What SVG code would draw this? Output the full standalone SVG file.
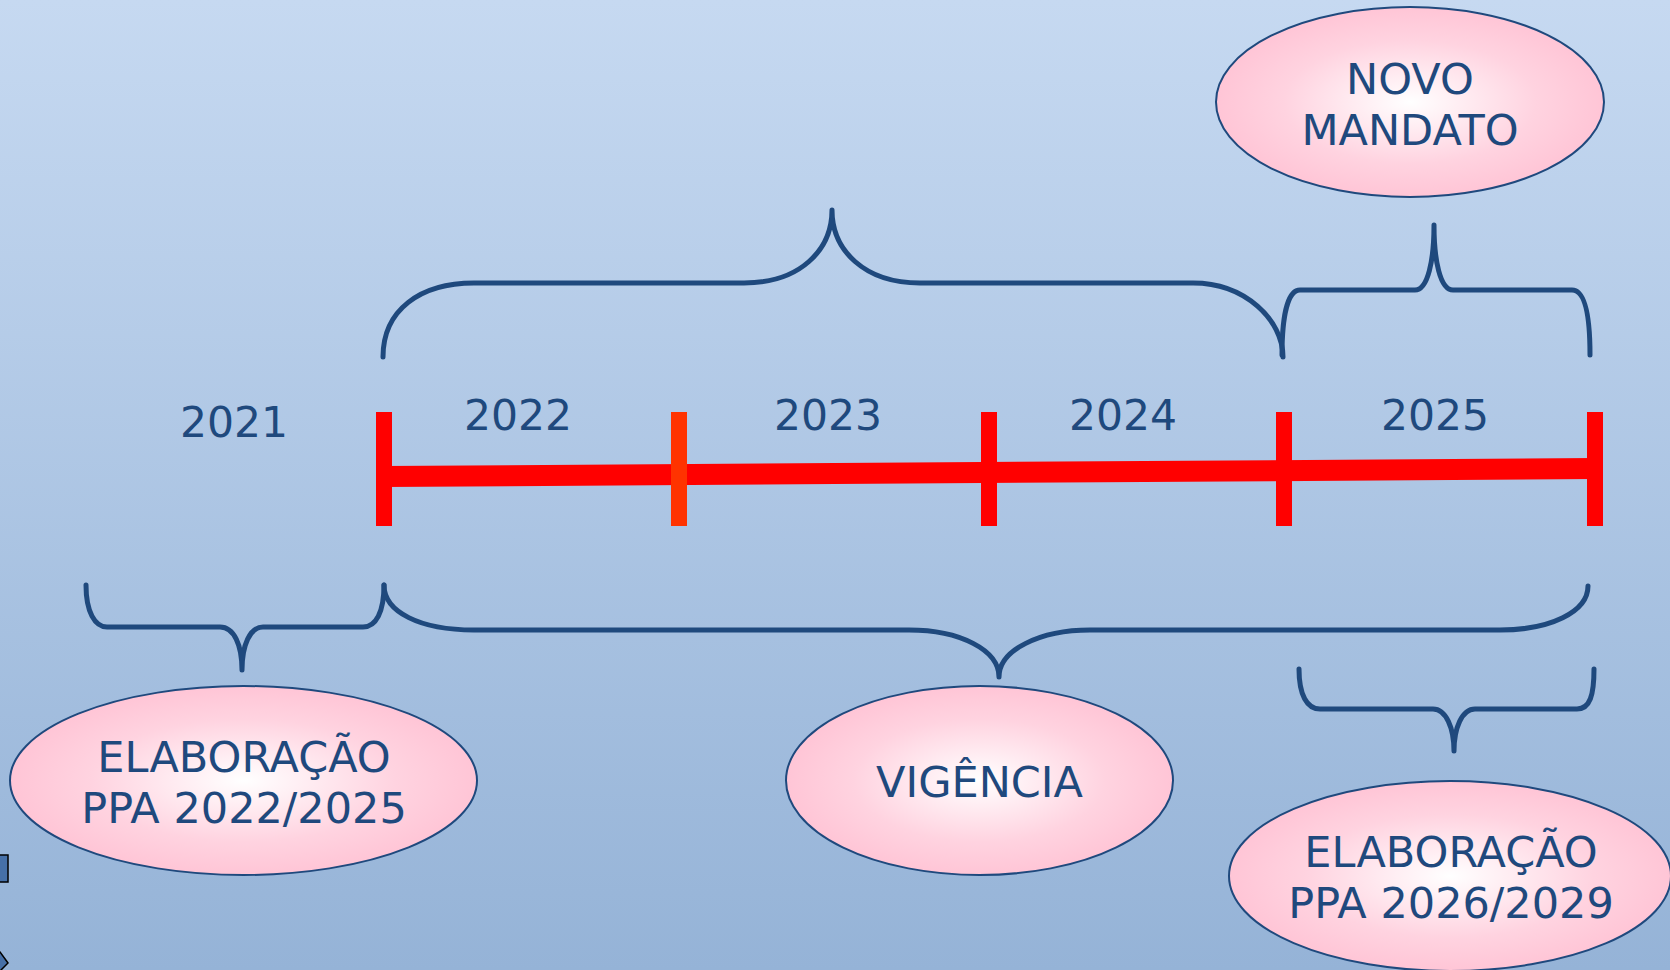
<svg xmlns="http://www.w3.org/2000/svg" width="1670" height="970" viewBox="0 0 1670 970">
<defs>
<linearGradient id="bg" x1="0" y1="0" x2="0" y2="1">
<stop offset="0" stop-color="#C6D9F1"/>
<stop offset="1" stop-color="#95B3D7"/>
</linearGradient>
<radialGradient id="pink" cx="0.5" cy="0.5" r="0.5">
<stop offset="0" stop-color="#FFFFFF"/>
<stop offset="0.65" stop-color="#FFD3E0"/>
<stop offset="1" stop-color="#FFC5D6"/>
</radialGradient>
<style>
.node ellipse{fill:url(#pink);stroke:#1F497D;stroke-width:2}
.t{font-family:"DejaVu Sans","Verdana",sans-serif;font-size:43px;fill:#1F497D;text-anchor:middle}
.y{font-size:42.5px}
.brace{fill:none;stroke:#1F497D;stroke-width:5;stroke-linecap:round;stroke-linejoin:round}
.tick{fill:#FF0000}
</style>
</defs>
<rect x="0" y="0" width="1670" height="970" fill="url(#bg)"/>

<rect x="-20" y="855" width="28" height="27" fill="#4670A8" stroke="#000" stroke-width="1.5"/>
<polygon points="-12,940 0,952 8,963 -4,975" fill="#4670A8" stroke="#000" stroke-width="1.5"/>

<g id="timeline">
<polygon points="384,466 1595,458 1595,479 384,487" fill="#FF0000"/>
<rect class="tick" x="376" y="412" width="16" height="114"/>
<rect x="671" y="412" width="16" height="114" fill="#FF3300"/>
<rect class="tick" x="981" y="412" width="16" height="114"/>
<rect class="tick" x="1276" y="412" width="16" height="114"/>
<rect class="tick" x="1587" y="412" width="16" height="114"/>
</g>

<g id="years">
<text class="t y" x="234" y="437">2021</text>
<text class="t y" x="518" y="430">2022</text>
<text class="t y" x="828" y="430">2023</text>
<text class="t y" x="1123" y="430">2024</text>
<text class="t y" x="1435" y="430">2025</text>
</g>

<g id="connectors">
<path class="brace" d="M383,357 C383,310 420,283 474,283 L744,283 C800,283 832,250 832,210 C832,250 864,283 920,283 L1193,283 C1245,283 1283,320 1283,357"/>
<path class="brace" d="M1282,355 C1282,315 1288,290 1300,290 L1415,290 C1428,290 1434,260 1434,225 C1434,260 1440,290 1453,290 L1572,290 C1585,290 1590,315 1590,355"/>
<path class="brace" d="M86,585 C86,612 95,627 107,627 L220,627 C234,627 242,645 242,670 C242,645 250,627 263,627 L363,627 C376,627 384,612 384,585"/>
<path class="brace" d="M384,585 C384,612 420,630 474,630 L909,630 C960,630 999,650 999,677 C999,650 1040,630 1090,630 L1500,630 C1550,630 1588,612 1588,586"/>
<path class="brace" d="M1299,669 C1299,695 1307,709 1320,709 L1433,709 C1446,709 1454,728 1454,751 C1454,728 1462,709 1475,709 L1577,709 C1590,709 1594,695 1594,669"/>
</g>

<g id="novo-mandato" class="node">
<ellipse cx="1410" cy="102" rx="194" ry="95"/>
<text class="t" x="1410" y="94">NOVO</text>
<text class="t" x="1410" y="145">MANDATO</text>
</g>

<g id="elab-2022" class="node">
<ellipse cx="243.5" cy="780.5" rx="233.5" ry="94.5"/>
<text class="t" x="244" y="772">ELABORAÇÃO</text>
<text class="t" x="244" y="823">PPA 2022/2025</text>
</g>

<g id="vigencia" class="node">
<ellipse cx="979.5" cy="780.5" rx="193.5" ry="94.5"/>
<text class="t" x="979.5" y="797">VIGÊNCIA</text>
</g>

<g id="elab-2026" class="node">
<ellipse cx="1450" cy="876" rx="221" ry="95"/>
<text class="t" x="1451" y="867">ELABORAÇÃO</text>
<text class="t" x="1451" y="918">PPA 2026/2029</text>
</g>
</svg>
